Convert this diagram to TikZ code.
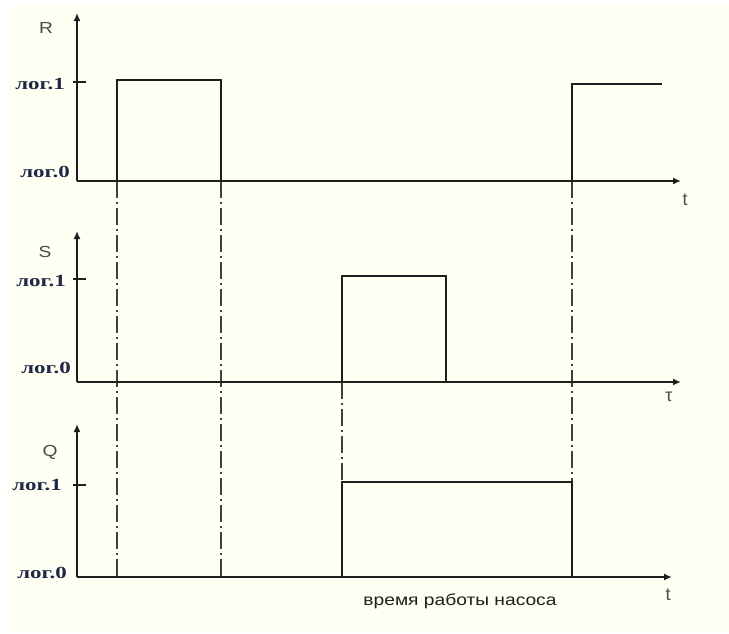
\documentclass[tikz,border=0pt]{standalone}
\usepackage{fontspec}
\setmainfont{Liberation Serif}
\setsansfont{Liberation Sans}
\usetikzlibrary{arrows.meta}

\definecolor{paper}{RGB}{255,255,243}
\definecolor{ink}{RGB}{30,30,30}
\definecolor{lvl}{RGB}{32,40,72}
\definecolor{axlabel}{RGB}{75,75,75}

\begin{document}
\begin{tikzpicture}[x=1pt,y=-1pt,
  axisline/.style={line width=2.2pt, draw=ink, -{Latex[length=8pt,width=7pt]}},
  wave/.style={line width=2.2pt, draw=ink},
  tickmark/.style={line width=1.8pt, draw=ink},
  guide/.style={line width=2.2pt, draw=ink!85, dash pattern=on 17pt off 4pt on 2pt off 4pt},
  lvltext/.style={font=\bfseries\fontsize{17}{17}\selectfont, text=lvl, anchor=east, inner sep=0pt, xscale=1.35},
  sigtext/.style={font=\sffamily\fontsize{16}{16}\selectfont, text=axlabel, inner sep=0pt, xscale=1.2},
  timetext/.style={font=\sffamily\fontsize{18}{18}\selectfont, text=axlabel, inner sep=0pt},
  captext/.style={font=\sffamily\fontsize{16}{16}\selectfont, text=ink, inner sep=0pt, xscale=1.2}]

% canvas
\useasboundingbox (0,0) rectangle (729,633);
\fill[white] (0,0) rectangle (729,633);
\fill[paper] (10,5) rectangle (729,633);

% axis end points
\coordinate (r0) at (77,181); \coordinate (rtop) at (77,13); \coordinate (rend) at (681,181);
\coordinate (s0) at (77,382); \coordinate (stop) at (77,231); \coordinate (send) at (681,382);
\coordinate (q0) at (77,577); \coordinate (qtop) at (77,424); \coordinate (qend) at (672,577);

% signal corners
\coordinate (ra) at (117,181); \coordinate (rb) at (117,80); \coordinate (rc) at (221,80); \coordinate (rd) at (221,181);
\coordinate (re) at (572,181); \coordinate (rf) at (572,84); \coordinate (rg) at (662,84);
\coordinate (sa) at (342,382); \coordinate (sb) at (342,276); \coordinate (sc) at (446,276); \coordinate (sd) at (446,382);
\coordinate (qa) at (342,577); \coordinate (qb) at (342,482); \coordinate (qc) at (572,482); \coordinate (qd) at (572,577);
\coordinate (g1) at (117,577); \coordinate (g2) at (221,577);

% guide lines between the diagrams
\draw[guide] (ra) -- (g1);
\draw[guide] (rd) -- (g2);
\draw[guide] (sa) -- (qb);
\draw[guide] (re) -- (qc);

% axes
\draw[axisline] (r0) -- (rtop);
\draw[axisline] (r0) -- (rend);
\draw[axisline] (s0) -- (stop);
\draw[axisline] (s0) -- (send);
\draw[axisline] (q0) -- (qtop);
\draw[axisline] (q0) -- (qend);

% level ticks
\coordinate (rt1) at (73,82); \coordinate (rt2) at (86,82);
\coordinate (st1) at (73,279); \coordinate (st2) at (86,279);
\coordinate (qt1) at (73,485); \coordinate (qt2) at (86,485);
\draw[tickmark] (rt1) -- (rt2);
\draw[tickmark] (st1) -- (st2);
\draw[tickmark] (qt1) -- (qt2);

% signals
\draw[wave] (ra) -- (rb) -- (rc) -- (rd);
\draw[wave] (re) -- (rf) -- (rg);
\draw[wave] (sa) -- (sb) -- (sc) -- (sd);
\draw[wave] (qa) -- (qb) -- (qc) -- (qd);

% labels
\node[sigtext] (lr) at (46,28) {R};
\node[sigtext] (ls) at (45,252) {S};
\node[sigtext] (lq) at (50,452) {Q};

\node[lvltext] (r1) at (65,84) {лог.1};
\node[lvltext] (r0l) at (70,172) {лог.0};
\node[lvltext] (s1) at (66,281) {лог.1};
\node[lvltext] (s0l) at (71,368) {лог.0};
\node[lvltext] (q1) at (62,485) {лог.1};
\node[lvltext] (q0l) at (67,573) {лог.0};

\node[timetext] (tr) at (685,200) {t};
\node[timetext] (ts) at (669,397) {τ};
\node[timetext] (tq) at (668,595) {t};

\node[captext] (cap) at (460,601) {время работы насоса};
\end{tikzpicture}
\end{document}
